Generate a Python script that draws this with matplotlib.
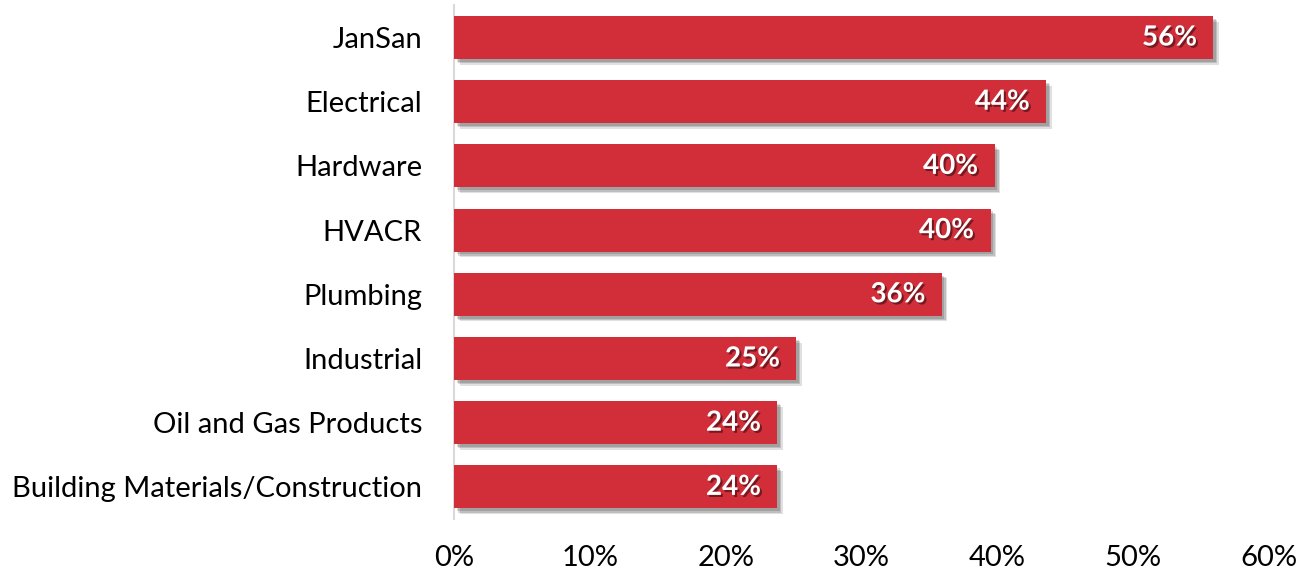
import matplotlib
matplotlib.use("Agg")
import matplotlib.pyplot as plt
import matplotlib.patheffects as pe
from matplotlib.ticker import FuncFormatter

categories = ["JanSan", "Electrical", "Hardware", "HVACR", "Plumbing",
              "Industrial", "Oil and Gas Products", "Building Materials/Construction"]
values = [55.9, 43.6, 39.8, 39.5, 35.9, 25.2, 23.8, 23.8]
labels = ["56%", "44%", "40%", "40%", "36%", "25%", "24%", "24%"]
xticks = [0, 10, 20, 30, 40, 50, 60]

plt.rcParams['font.family'] = ['Lato', 'DejaVu Sans']

fig = plt.figure(figsize=(13.09, 5.75), dpi=100)
ax = fig.add_axes([454/1309, 1 - 519/575, (1269 - 454)/1309, (519 - 5.4)/575])

ypos = list(range(len(categories)))
shadow = [pe.SimplePatchShadow(offset=(4, -4), shadow_rgbFace='black', alpha=0.12),
          pe.SimplePatchShadow(offset=(3, -3), shadow_rgbFace='black', alpha=0.15),
          pe.SimplePatchShadow(offset=(2, -2), shadow_rgbFace='black', alpha=0.15),
          pe.Normal()]
bars = ax.barh(ypos, values, height=0.67, color='#D22E3A', zorder=3)
for b in bars:
    b.set_path_effects(shadow)

for y, v, lab in zip(ypos, values, labels):
    t = ax.text(v - 1.2, y, lab, ha='right', va='center', color='white',
                fontsize=20, fontweight='bold', zorder=5)
    t.set_path_effects([pe.withSimplePatchShadow(offset=(1.5, -1.5), shadow_rgbFace='black', alpha=0.45)])

ax.set_yticks(ypos)
ax.set_yticklabels(categories, fontsize=21)
ax.set_ylim(len(categories) - 0.5, -0.5)
ax.set_xlim(0, 60)
ax.set_xticks(xticks)
ax.xaxis.set_major_formatter(FuncFormatter(lambda x, p: f"{int(x)}%"))
ax.tick_params(axis='x', labelsize=21, length=0, pad=19)
ax.tick_params(axis='y', length=0, pad=23)
for s in ['top', 'right', 'bottom']:
    ax.spines[s].set_visible(False)
ax.spines['left'].set_color('#D9D9D9')
ax.spines['left'].set_linewidth(1.5)

fig.savefig("out.png", dpi=100)
